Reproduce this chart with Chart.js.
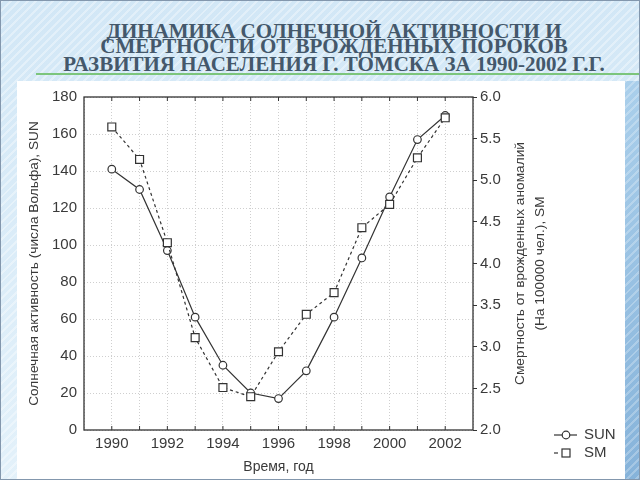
<!DOCTYPE html>
<html>
<head>
<meta charset="utf-8">
<script src="https://cdn.jsdelivr.net/npm/chart.js@4/dist/chart.umd.min.js"></script>
<style>
  body { margin: 0; }
  #slide {
    position: relative; width: 640px; height: 480px; overflow: hidden; box-sizing: border-box;
    border: 1px solid #8397ad;
    background:
      repeating-linear-gradient(135deg, rgba(255,255,255,0.35) 0 2px, rgba(255,255,255,0) 2px 6px),
      linear-gradient(#d2e7f6, #e3f1fa);
  }
  .tline {
    position: absolute; left: 13px; width: 640px; text-align: center;
    font: bold 21px "Liberation Serif", serif; line-height: 21px; color: #44586b;
    white-space: nowrap;
  }
  #green { position: absolute; left: 35px; top: 72px; width: 605px; height: 2px; background: #7cc57c; }
  #band {
    position: absolute; left: 624px; top: 80px; width: 16px; height: 400px;
    background:
      repeating-linear-gradient(135deg, rgba(255,255,255,0.25) 0 2px, rgba(255,255,255,0) 2px 6px),
      linear-gradient(#aacfeb, #86b3da);
  }
  #panel { position: absolute; left: 16px; top: 80px; width: 608px; height: 398px; background: #fff; }
</style>
</head>
<body>
<div id="slide">
  <div class="tline" style="top:20px">ДИНАМИКА СОЛНЕЧНОЙ АКТИВНОСТИ И</div>
  <div class="tline" style="top:35px">СМЕРТНОСТИ ОТ ВРОЖДЕННЫХ ПОРОКОВ</div>
  <div class="tline" style="top:53px">РАЗВИТИЯ НАСЕЛЕНИЯ Г. ТОМСКА ЗА 1990-2002 Г.Г.</div>
  <div id="green"></div>
  <div id="band"></div>
  <div id="panel"><canvas id="myChart" width="608" height="398"></canvas></div>
</div>
<script>
const years = [1990, 1991, 1992, 1993, 1994, 1995, 1996, 1997, 1998, 1999, 2000, 2001, 2002];
const sunValues = [141, 130, 97, 61, 35, 20, 17, 32, 61, 93, 126, 157, 170];
const smValues = [5.64, 5.25, 4.25, 3.11, 2.51, 2.40, 2.94, 3.39, 3.65, 4.43, 4.71, 5.27, 5.75];
const seriesNames = ["SUN", "SM"];
const xTitle = "Время, год";
const leftTitle = "Солнечная активность (числа Вольфа), SUN";
const rightTitle = ["Смертность от врожденных аномалий", "(На 100000 чел.), SM"];

const ink = "#333";
const textColor = "#3a3a3a";
const sans = '"Liberation Sans", Arial, sans-serif';

const extras = {
  id: "extras",
  afterDraw: (chart) => {
    const {ctx, chartArea: a, scales} = chart;
    ctx.save();
    // frame round the plot
    ctx.strokeStyle = ink;
    ctx.lineWidth = 1.3;
    ctx.setLineDash([]);
    ctx.strokeRect(a.left, a.top, a.right - a.left, a.bottom - a.top);
    // inner ticks, bottom and top
    ctx.lineWidth = 1;
    years.forEach(yr => {
      const px = scales.x.getPixelForValue(yr);
      ctx.beginPath();
      ctx.moveTo(px, a.bottom); ctx.lineTo(px, a.bottom - 4);
      ctx.moveTo(px, a.top); ctx.lineTo(px, a.top + 4);
      ctx.stroke();
    });
    // right axis title, reads bottom to top
    const mid = (a.top + a.bottom) / 2;
    ctx.fillStyle = textColor;
    ctx.font = "13.7px " + sans;
    ctx.textAlign = "center";
    ctx.textBaseline = "middle";
    ctx.translate(a.right + 47, mid);
    ctx.rotate(-Math.PI / 2);
    ctx.fillText(rightTitle[0], 0, 0);
    ctx.fillText(rightTitle[1], 0, 20);
    ctx.restore();

    // legend
    ctx.save();
    ctx.strokeStyle = ink;
    ctx.fillStyle = "#fff";
    ctx.lineWidth = 1.2;
    const lx = 537, ly1 = 354, ly2 = 372;
    ctx.beginPath(); ctx.moveTo(lx, ly1); ctx.lineTo(lx + 23, ly1); ctx.stroke();
    ctx.beginPath(); ctx.arc(lx + 12, ly1, 3.8, 0, Math.PI * 2); ctx.fill(); ctx.stroke();
    ctx.beginPath(); ctx.moveTo(lx, ly2); ctx.lineTo(lx + 4, ly2); ctx.stroke();
    ctx.fillRect(lx + 8, ly2 - 4, 8, 8); ctx.strokeRect(lx + 8, ly2 - 4, 8, 8);
    ctx.fillStyle = textColor;
    ctx.font = "15px " + sans;
    ctx.textAlign = "left";
    ctx.textBaseline = "middle";
    ctx.fillText(seriesNames[0], lx + 30, ly1);
    ctx.fillText(seriesNames[1], lx + 30, ly2);
    ctx.restore();
  }
};

const tickFont = {family: sans, size: 15};

new Chart("myChart", {
  type: "line",
  data: {
    datasets: [{
      label: seriesNames[0],
      data: years.map((y, i) => ({x: y, y: sunValues[i]})),
      yAxisID: "y",
      order: 1,
      borderColor: ink,
      borderWidth: 1.2,
      pointStyle: "circle",
      pointRadius: 3.8,
      pointBackgroundColor: "#fff",
      pointBorderColor: ink,
      pointBorderWidth: 1.2
    }, {
      label: seriesNames[1],
      data: years.map((y, i) => ({x: y, y: smValues[i]})),
      yAxisID: "y2",
      order: 0,
      borderColor: ink,
      borderWidth: 1.2,
      borderDash: [3, 3],
      pointStyle: "rect",
      pointRadius: 5.6,
      pointBackgroundColor: "#fff",
      pointBorderColor: ink,
      pointBorderWidth: 1.2
    }]
  },
  options: {
    responsive: false,
    animation: false,
    layout: {padding: {top: 12, left: 0, right: 0, bottom: 0}},
    plugins: {legend: {display: false}, tooltip: {enabled: false}},
    scales: {
      x: {
        type: "linear",
        min: 1989,
        max: 2003,
        afterFit: (s) => { s.height = 49; },
        ticks: {
          stepSize: 1, autoSkip: false, maxRotation: 0, padding: 5,
          font: tickFont, color: textColor,
          callback: (v) => v % 2 === 0 ? String(v) : ""
        },
        grid: {color: "#cfcfcf", drawTicks: false},
        border: {display: false, dash: [1, 2]},
        title: {display: true, text: xTitle, color: textColor,
          font: {family: sans, size: 14}, padding: {top: 0, bottom: 3}}
      },
      y: {
        position: "left",
        min: 0,
        max: 180,
        afterFit: (s) => { s.width = 67; },
        ticks: {stepSize: 20, padding: 7, font: tickFont, color: textColor},
        grid: {color: "#cfcfcf", drawTicks: false},
        border: {display: false, dash: [1, 2]},
        title: {display: true, text: leftTitle, color: textColor,
          font: {family: sans, size: 13.7}, padding: {top: 9, bottom: 0}}
      },
      y2: {
        position: "right",
        min: 2,
        max: 6,
        afterFit: (s) => { s.width = 152; },
        ticks: {stepSize: 0.5, padding: 3, font: tickFont, color: textColor,
          callback: (v) => v.toFixed(1)},
        grid: {drawOnChartArea: false, drawTicks: true, tickLength: 4, tickColor: ink},
        border: {display: false}
      }
    }
  },
  plugins: [extras]
});
</script>
</body>
</html>
